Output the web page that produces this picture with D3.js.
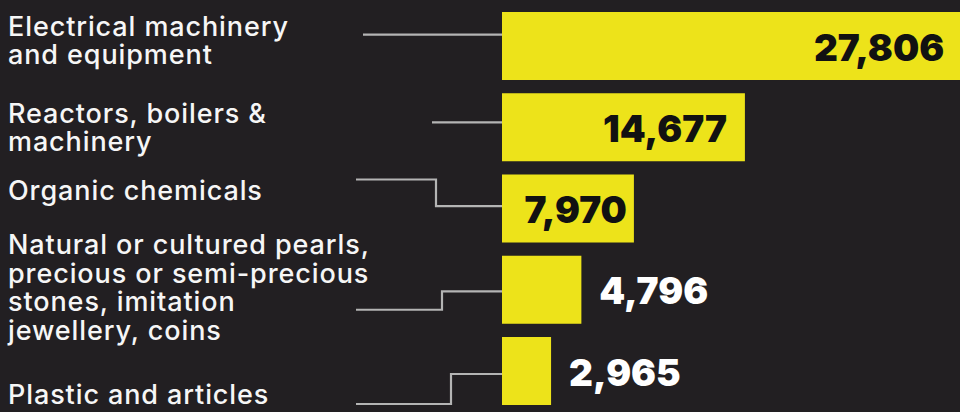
<!DOCTYPE html>
<html>
<head>
<meta charset="utf-8">
<script src="https://cdn.jsdelivr.net/npm/d3@7"></script>
<style>
  html, body { margin: 0; padding: 0; background: #221f22; }
  svg { display: block; }
</style>
</head>
<body>
<svg id="chart" width="960" height="412"></svg>
<script>
// Top export categories and their values
const categories = [
  "Electrical machinery and equipment",
  "Reactors, boilers & machinery",
  "Organic chemicals",
  "Natural or cultured pearls, precious or semi-precious stones, imitation jewellery, coins",
  "Plastic and articles"
];
const categoryLines = [
  ["Electrical machinery", "and equipment"],
  ["Reactors, boilers &", "machinery"],
  ["Organic chemicals"],
  ["Natural or cultured pearls,", "precious or semi-precious", "stones, imitation", "jewellery, coins"],
  ["Plastic and articles"]
];
const values = [27806, 14677, 7970, 4796, 2965];

// Label block shift from the bar centre, and leader-line shape per row:
// [start x, start dy, elbow x, end dy] relative to the band centre
const labelShift = [-5.5, 0, -18.5, -2.5, 23.5];
const leaders = [
  [363, -11.3, null, -11.3],
  [432, -4.8, null, -4.8],
  [356, -29, 436, -2.3],
  [356, 20, 442, 1.7],
  [356, 33, 451, 3]
];

const W = 960, H = 412;
const BAR_COLOR = "#ede31a";
const svg = d3.select("#chart");

svg.append("rect").attr("width", W).attr("height", H).attr("fill", "#221f22");

const x = d3.scaleLinear().domain([0, 28000]).range([502, 965.4]);
const y = d3.scaleBand().domain(categories).range([5.375, 411.625])
  .paddingInner(0.163).paddingOuter(0.0815);

const fmt = d3.format(",");
const rows = categories.map((c, i) => ({ c, i, v: values[i], lines: categoryLines[i] }));

// leader lines
const line = d3.line();
svg.append("g").selectAll("path").data(rows).join("path")
  .attr("d", d => {
    const cy = y(d.c) + y.bandwidth() / 2;
    const [sx, sdy, ex, edy] = leaders[d.i];
    const pts = [[sx, cy + sdy]];
    if (ex !== null) { pts.push([ex, cy + sdy]); pts.push([ex, cy + edy]); }
    pts.push([x(0), cy + edy]);
    return line(pts);
  })
  .attr("fill", "none").attr("stroke", "#b4b4b4").attr("stroke-width", 2.2);

// bars
svg.append("g").selectAll("rect").data(rows).join("rect")
  .attr("x", x(0))
  .attr("y", d => y(d.c))
  .attr("width", d => x(d.v) - x(0))
  .attr("height", y.bandwidth())
  .attr("fill", BAR_COLOR);

// category labels, one text per wrapped line
const LH = 28.5;
const labels = svg.append("g")
  .attr("font-family", "Inter, 'Noto Sans', sans-serif")
  .attr("font-size", 27)
  .attr("font-weight", 500)
  .attr("letter-spacing", 0.9)
  .attr("fill", "#f6f6f6");
rows.forEach(d => {
  const cy = y(d.c) + y.bandwidth() / 2;
  const first = cy + labelShift[d.i] - (d.lines.length - 1) * LH / 2 + 9.5;
  d.lines.forEach((ln, k) => {
    labels.append("text").attr("x", 8).attr("y", first + k * LH).text(ln);
  });
});

// value labels
const vg = svg.append("g")
  .attr("font-family", "Inter, 'Noto Sans', sans-serif")
  .attr("font-size", 37)
  .attr("font-weight", 900);
rows.forEach(d => {
  const cy = y(d.c) + y.bandwidth() / 2;
  const barW = x(d.v) - x(0);
  const t = vg.append("text").attr("y", cy + 14.5).text(fmt(d.v));
  const tw = t.node().getComputedTextLength();
  if (barW >= tw + 20) {
    const pad = barW >= tw + 60 ? 18 : 7;
    const right = Math.min(x(d.v) - pad, W - 15);
    t.attr("x", right).attr("text-anchor", "end").attr("fill", "#111");
  } else {
    t.attr("x", x(d.v) + 18).attr("text-anchor", "start").attr("fill", "#fff");
  }
});
</script>
</body>
</html>
